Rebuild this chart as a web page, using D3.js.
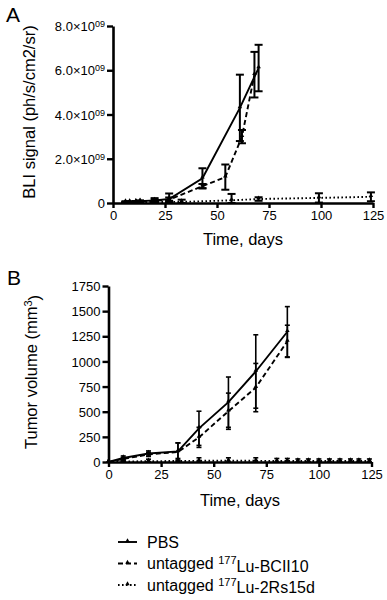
<!DOCTYPE html>
<html><head><meta charset="utf-8">
<script src="https://cdn.jsdelivr.net/npm/d3@7"></script>
<style>
body{margin:0;background:#fff}
svg{display:block}
text{font-family:'Liberation Sans',Arial,Helvetica,sans-serif;fill:#000}
</style>
</head><body>
<svg id="chart" width="387" height="600"></svg>
<script>
// ---------- DATA ----------
const seriesNames = ["PBS", "BCII10", "2Rs15d"];
const xTicks = [0, 25, 50, 75, 100, 125];

// Panel A: BLI signal, values in units of 10^9 ph/s/cm2/sr
const bliTicks = [0, 2, 4, 6, 8];
const bliPbsDays = [6, 8, 11, 13, 20, 27, 43, 61, 70];
const bliPbsMean = [0.05, 0.05, 0.06, 0.08, 0.12, 0.18, 1.12, 4.3, 6.1];
const bliPbsErr  = [0.03, 0.03, 0.03, 0.04, 0.1, 0.25, 0.45, 1.5, 1.05];
const bliBclDays = [6, 8, 11, 13, 20, 27, 43, 54, 62, 68];
const bliBclMean = [0.03, 0.04, 0.05, 0.06, 0.1, 0.15, 0.76, 1.17, 3.0, 5.8];
const bliBclErr  = [0.02, 0.02, 0.03, 0.03, 0.05, 0.1, 0.1, 0.57, 0.3, 1.03];
const bli2RsDays = [6, 8, 11, 13, 20, 27, 33, 57, 70, 99, 124];
const bli2RsMean = [0.02, 0.02, 0.03, 0.03, 0.04, 0.05, 0.05, 0.12, 0.18, 0.23, 0.28];
const bli2RsErr  = [0.02, 0.02, 0.02, 0.02, 0.03, 0.05, 0.1, 0.29, 0.08, 0.21, 0.2];

// Panel B: tumor volume (mm3)
const volTicks = [0, 250, 500, 750, 1000, 1250, 1500, 1750];
const volPbsDays = [0, 7, 19, 33, 43, 57, 70, 85];
const volPbsMean = [0, 40, 85, 105, 335, 595, 900, 1295];
const volPbsErr  = [0, 20, 25, 85, 170, 250, 365, 250];
const volBclDays = [0, 7, 19, 33, 43, 57, 70, 85];
const volBclMean = [0, 30, 75, 100, 245, 505, 740, 1200];
const volBclErr  = [0, 15, 20, 90, 100, 180, 240, 160];
const vol2RsDays = [0, 7, 19, 33, 43, 57, 70, 80, 85, 90, 95, 100, 105, 110, 115, 119, 124];
const vol2RsMean = [0, 5, 8, 10, 12, 12, 12, 10, 10, 10, 10, 10, 10, 10, 10, 10, 10];
const vol2RsErr  = [0, 15, 20, 25, 30, 30, 30, 25, 25, 20, 20, 20, 20, 20, 20, 20, 20];

// ---------- DRAW ----------
const svg = d3.select("#chart");
const dashFor = {PBS: null, BCII10: "5,3", "2Rs15d": "1.6,2.4"};

function zip(days, mean, err){ return days.map((d,i)=>({x:d, y:mean[i], e:err[i]})); }

function panel(opt){
  const g = svg.append("g");
  const x = d3.scaleLinear().domain([0,125]).range(opt.xr);
  const y = d3.scaleLinear().domain(opt.yd).range(opt.yr);

  // axes
  const xa = g.append("g").attr("transform",`translate(0,${opt.yr[0]})`)
    .call(d3.axisBottom(x).tickValues(xTicks).tickSize(5).tickPadding(3).tickSizeOuter(0));
  const ya = g.append("g").attr("transform",`translate(${opt.xr[0]},0)`)
    .call(d3.axisLeft(y).tickValues(opt.yticks).tickSize(6).tickPadding(2).tickSizeOuter(0).tickFormat(""));
  [xa,ya].forEach(a=>{
    a.select(".domain").attr("stroke","#000").attr("stroke-width",2.6);
    a.selectAll(".tick line").attr("stroke","#000").attr("stroke-width",2.4);
    a.selectAll("text").attr("font-size",13).attr("font-family","'Liberation Sans',Arial,sans-serif").attr("fill","#000");
  });
  // y tick labels
  ya.selectAll(".tick").each(function(d){
    const t = d3.select(this).append("text").attr("x",-8).attr("dy","0.36em")
      .attr("text-anchor","end").attr("font-size",13).attr("fill","#000");
    opt.ylabel(t,d);
  });

  // series
  opt.series.forEach(s=>{
    const data = s.data;
    const line = d3.line().x(d=>x(d.x)).y(d=>y(d.y));
    g.append("path").datum(data).attr("d",line).attr("fill","none")
      .attr("stroke","#000").attr("stroke-width",1.9)
      .attr("stroke-dasharray",dashFor[s.name]);
    const eb = g.append("g").selectAll("g").data(data.filter(d=>d.e>0)).join("g");
    eb.append("line").attr("x1",d=>x(d.x)).attr("x2",d=>x(d.x))
      .attr("y1",d=>y(d.y+d.e)).attr("y2",d=>y(Math.max(0,d.y-d.e)))
      .attr("stroke","#000").attr("stroke-width",opt.ebw);
    [1,-1].forEach(sg=>{
      eb.append("line").attr("x1",d=>x(d.x)-opt.cap).attr("x2",d=>x(d.x)+opt.cap)
        .attr("y1",d=>y(Math.max(0,d.y+sg*d.e))).attr("y2",d=>y(Math.max(0,d.y+sg*d.e)))
        .attr("stroke","#000").attr("stroke-width",opt.ebw);
    });
    g.append("g").selectAll("path").data(data).join("path")
      .attr("d",d3.symbol(d3.symbolTriangle,9))
      .attr("transform",d=>`translate(${x(d.x)},${y(d.y)-1})`).attr("fill","#000");
  });

  // titles
  g.append("text").attr("x",opt.xt[0]).attr("y",opt.xt[1]).attr("text-anchor","middle")
    .attr("font-size",16.5).text("Time, days");
  const yt = g.append("text").attr("transform",`translate(${opt.yt[0]},${opt.yt[1]}) rotate(-90)`)
    .attr("text-anchor","middle").attr("font-size",16.5);
  opt.ytitle(yt);
  g.append("text").attr("x",opt.letter[0]).attr("y",opt.letter[1]).attr("font-size",21).text(opt.letterText);
}

panel({
  xr:[113,373], yr:[203,26], yd:[0,8], yticks:bliTicks, cap:4, ebw:2,
  ylabel:(t,d)=>{ if(d===0){t.text("0");} else { t.append("tspan").text(d.toFixed(1)+"×10"); t.append("tspan").attr("dy","-0.45em").attr("font-size",9).text("09"); } },
  series:[
    {name:"2Rs15d", data:zip(bli2RsDays,bli2RsMean,bli2RsErr)},
    {name:"BCII10", data:zip(bliBclDays,bliBclMean,bliBclErr)},
    {name:"PBS", data:zip(bliPbsDays,bliPbsMean,bliPbsErr)}
  ],
  xt:[243,245], yt:[35,112], letter:[6,22], letterText:"A",
  ytitle:t=>t.text("BLI signal (ph/s/cm2/sr)")
});

panel({
  xr:[108.5,371.5], yr:[462,286], yd:[0,1750], yticks:volTicks, cap:2.5, ebw:1.6,
  ylabel:(t,d)=>t.text(d),
  series:[
    {name:"2Rs15d", data:zip(vol2RsDays,vol2RsMean,vol2RsErr)},
    {name:"BCII10", data:zip(volBclDays,volBclMean,volBclErr)},
    {name:"PBS", data:zip(volPbsDays,volPbsMean,volPbsErr)}
  ],
  xt:[240,506], yt:[37,372], letter:[7,285], letterText:"B",
  ytitle:t=>{ t.append("tspan").text("Tumor volume (mm"); t.append("tspan").attr("dy","-0.5em").attr("font-size",11).text("3"); t.append("tspan").attr("dy","0.5em").text(")"); }
});

// legend
const legendLabels = [
  {name:"PBS", parts:[["PBS",false]]},
  {name:"BCII10", parts:[["untagged ",false],["177",true],["Lu-BCII10",false]]},
  {name:"2Rs15d", parts:[["untagged ",false],["177",true],["Lu-2Rs15d",false]]}
];
const lg = svg.append("g");
const rowY = d3.scalePoint().domain(legendLabels.map(d=>d.name)).range([542,585]);
legendLabels.forEach(l=>{
  const yy = rowY(l.name);
  lg.append("line").attr("x1",118).attr("x2",137).attr("y1",yy).attr("y2",yy)
    .attr("stroke","#000").attr("stroke-width",1.9).attr("stroke-dasharray",dashFor[l.name]);
  lg.append("path").attr("d",d3.symbol(d3.symbolTriangle,9)).attr("transform",`translate(127.5,${yy-1})`);
  const t = lg.append("text").attr("x",147).attr("y",yy).attr("dy","0.36em").attr("font-size",16);
  l.parts.forEach(([s,sup],i)=>{
    const ts = t.append("tspan").text(s);
    if(sup) ts.attr("dy","-0.45em").attr("font-size",11);
    else if(i>0 && l.parts[i-1][1]) ts.attr("dy","0.45em");
  });
});
</script>
</body></html>
